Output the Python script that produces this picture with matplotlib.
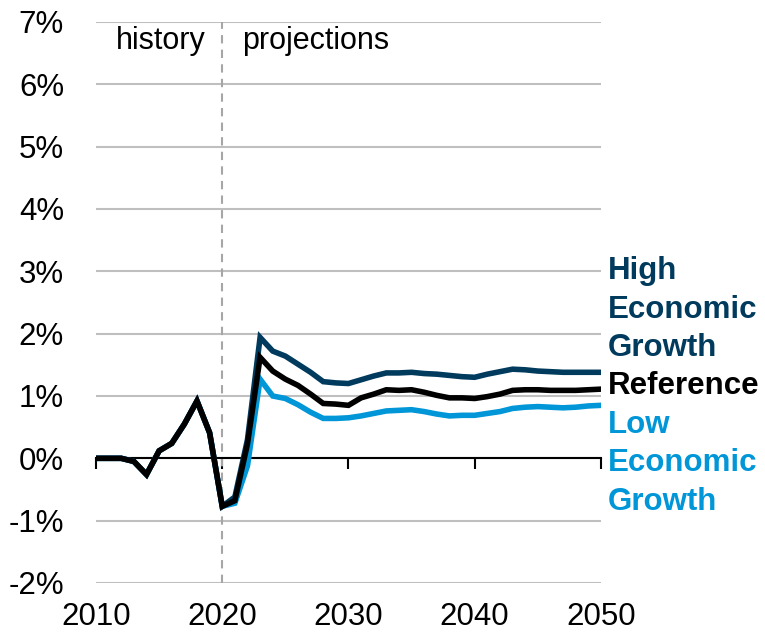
import matplotlib
matplotlib.use("Agg")
import matplotlib.pyplot as plt
import numpy as np

plt.rcParams['font.family'] = ['Liberation Sans', 'DejaVu Sans']

years = list(range(2010, 2051))

history = [0.0, 0.0, 0.0, -0.05, -0.26, 0.12, 0.24, 0.55, 0.92, 0.41]

reference = history + [
    -0.77, -0.68, 0.23, 1.62, 1.40, 1.27, 1.17, 1.03, 0.88, 0.87,
    0.85, 0.97, 1.03, 1.10, 1.09, 1.10, 1.06, 1.01, 0.97, 0.97,
    0.96, 0.99, 1.03, 1.09, 1.10, 1.10, 1.09, 1.09, 1.09, 1.10, 1.11]

high = history + [
    -0.77, -0.62, 0.30, 1.94, 1.72, 1.64, 1.51, 1.38, 1.23, 1.21,
    1.20, 1.26, 1.32, 1.37, 1.37, 1.38, 1.36, 1.35, 1.33, 1.31,
    1.30, 1.35, 1.39, 1.43, 1.42, 1.40, 1.39, 1.38, 1.38, 1.38, 1.38]

low = history + [
    -0.77, -0.72, -0.12, 1.27, 1.00, 0.96, 0.86, 0.74, 0.64, 0.64,
    0.65, 0.68, 0.72, 0.76, 0.77, 0.78, 0.75, 0.71, 0.68, 0.69,
    0.69, 0.72, 0.75, 0.80, 0.82, 0.83, 0.82, 0.81, 0.82, 0.84, 0.85]

navy = '#003A5D'
lightblue = '#0096D7'

fig = plt.figure(figsize=(7.65, 6.35), dpi=100)
ax = fig.add_axes([0.1255, 0.0819, 0.66, 0.8835])

ax.set_xlim(2010, 2050)
ax.set_ylim(-2, 7)

ax.set_yticks(range(-2, 8))
ax.set_yticklabels([f'{v}%' for v in range(-2, 8)])
ax.grid(axis='y', color='#BFBFBF', linewidth=1.5)
ax.set_axisbelow(True)
ax.tick_params(axis='y', length=0, labelsize=22.5, pad=23)

for s in ['top', 'right', 'left']:
    ax.spines[s].set_visible(False)
ax.spines['bottom'].set_position(('data', 0))
ax.spines['bottom'].set_color('black')
ax.spines['bottom'].set_linewidth(1.5)
ax.set_xticks([2010, 2020, 2030, 2040, 2050])
ax.tick_params(axis='x', length=8, width=1.5, labelbottom=False, direction='out')

sec = ax.secondary_xaxis('bottom')
sec.set_xticks([2010, 2020, 2030, 2040, 2050])
sec.tick_params(length=0, labelsize=22.5, pad=13.5)
sec.spines['bottom'].set_visible(False)

ax.axvline(2020, color='#A6A6A6', linestyle=(0, (4, 3)), linewidth=1.5, zorder=1)

ax.plot(years, low, color=lightblue, linewidth=4, zorder=3, solid_joinstyle='miter')
ax.plot(years, high, color=navy, linewidth=4, zorder=3, solid_joinstyle='miter')
ax.plot(years, reference, color='black', linewidth=4, zorder=4, solid_joinstyle='miter')

ax.text(2018.65, 6.7, 'history', ha='right', va='center', fontsize=22)
ax.text(2021.6, 6.7, 'projections', ha='left', va='center', fontsize=22)

lx = 2050.55
ax.text(lx, 2.38, 'High\nEconomic\nGrowth', color=navy, fontsize=22.5, fontweight='bold',
        ha='left', va='center', linespacing=1.37, clip_on=False)
ax.text(lx, 1.16, 'Reference', color='black', fontsize=22.5, fontweight='bold',
        ha='left', va='center', clip_on=False)
ax.text(lx, -0.08, 'Low\nEconomic\nGrowth', color=lightblue, fontsize=22.5, fontweight='bold',
        ha='left', va='center', linespacing=1.37, clip_on=False)

fig.savefig('out.png', dpi=100)
